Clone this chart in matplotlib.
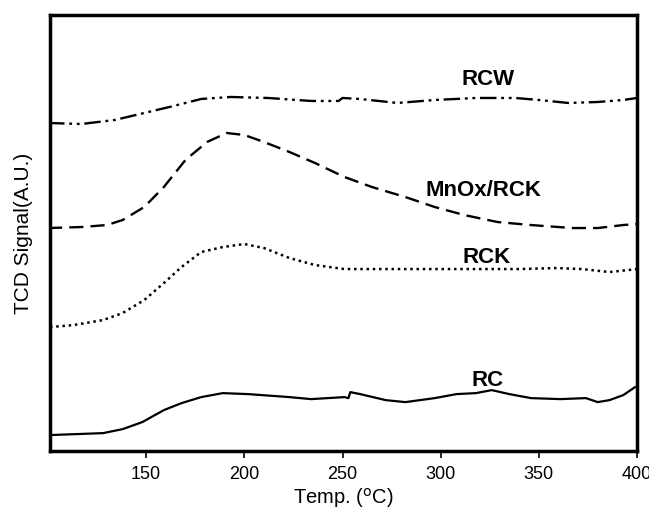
import matplotlib
matplotlib.use("Agg")
import matplotlib.pyplot as plt

plt.rcParams['font.family'] = ['Liberation Sans', 'DejaVu Sans']

# Temperatures (°C) and TCD signal (arbitrary units, stacked offsets)
rc_t = [100, 128, 138, 148, 159, 168, 178, 189, 202, 223, 234, 251, 253, 254, 259, 272, 282,
        297, 308, 318, 326, 335, 346, 361, 374, 380, 386, 393, 399]
rc_s = [16, 18, 22, 29, 41, 48, 54, 58, 57, 54, 52, 54, 53, 59, 57, 51, 49,
        53, 57, 58, 61, 57, 53, 52, 53, 49, 51, 56, 64]

rck_t = [101, 113, 128, 138, 149, 159, 168, 178, 189, 200, 210, 223, 236, 251, 276, 308,
         340, 359, 372, 386, 400]
rck_s = [124, 126, 131, 138, 151, 168, 184, 199, 204, 207, 203, 193, 186, 182, 182, 182,
         182, 183, 182, 179, 182]

mnox_t = [100, 117, 130, 138, 149, 159, 170, 181, 191, 200, 210, 223, 236, 251, 265, 282,
          297, 312, 329, 346, 367, 380, 393, 400]
mnox_s = [223, 224, 226, 231, 244, 264, 291, 309, 318, 316, 309, 299, 288, 274, 264, 254,
          244, 236, 229, 226, 223, 223, 226, 227]

rcw_t = [100, 117, 134, 149, 164, 178, 193, 212, 234, 248, 250, 259, 278, 297, 318, 338,
         350, 365, 380, 393, 400]
rcw_s = [328, 327, 331, 338, 345, 352, 354, 353, 350, 350, 353, 352, 348, 351, 353, 353,
         351, 348, 349, 351, 353]

labels = ["RC", "RCK", "MnOx/RCK", "RCW"]
label_pos = [(324, 71), (323.5, 194), (322, 261), (324, 371)]

xticks = [150, 200, 250, 300, 350, 400]

fig = plt.figure(figsize=(6.49, 5.15), dpi=100)
ax = fig.add_axes([0.077, 0.124, 0.9045, 0.847])

ax.plot(rc_t, rc_s, color='black', lw=1.6, linestyle='-')
ax.plot(rck_t, rck_s, color='black', lw=1.8, linestyle=(0, (1, 1.5)))
ax.plot(mnox_t, mnox_s, color='black', lw=1.7, linestyle=(0, (6, 3)))
ax.plot(rcw_t, rcw_s, color='black', lw=1.7, linestyle=(0, (7, 2, 1.2, 2, 1.2, 2)))

for lab, (x, y) in zip(labels, label_pos):
    ax.text(x, y, lab, ha='center', va='center', fontsize=16, fontweight='bold')

ax.set_xlim(101, 400)
ax.set_ylim(0, 436)
ax.set_xticks(xticks)
ax.set_xticklabels([str(v) for v in xticks], fontsize=13)
ax.set_yticks([])
ax.tick_params(axis='x', direction='out', length=5, width=1.2, pad=6)
for sp in ax.spines.values():
    sp.set_linewidth(2.5)

ax.set_xlabel('Temp. ($^{\\rm o}$C)', fontsize=14.5, labelpad=2)
ax.set_ylabel('TCD Signal(A.U.)', fontsize=15, labelpad=12)

fig.savefig('out.png', dpi=100)
